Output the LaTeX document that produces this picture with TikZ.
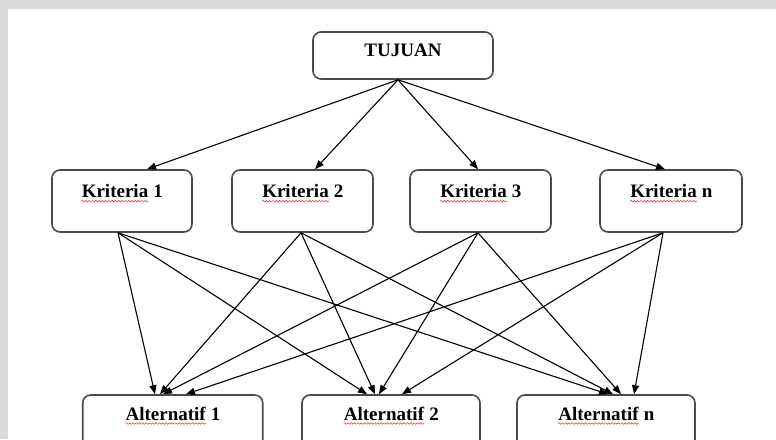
\documentclass[tikz,border=0pt]{standalone}
\usepackage{fontspec}
\setmainfont{Liberation Serif}
\usetikzlibrary{arrows.meta,decorations.pathmorphing}
\definecolor{pagegrey}{HTML}{D9D9D9}
\definecolor{boxline}{HTML}{4A4A4A}
\begin{document}
\begin{tikzpicture}[x=1pt,y=-1pt,
  box/.style={draw=boxline, line width=1.6pt, rounded corners=8pt, fill=white, inner sep=0pt},
  lbl/.style={font=\fontsize{19}{22}\selectfont\bfseries, inner sep=0pt, text=black},
  arr/.style={-{Triangle[length=9pt,width=7pt]}, line width=1.1pt, black},
  wave/.style={red!85!white, line width=0.5pt, decorate, decoration={snake, amplitude=0.8pt, segment length=3.3pt}}]
\useasboundingbox (0,0) rectangle (776,439);
\fill[white] (0,0) rectangle (776,439);
\fill[pagegrey] (0,0) rectangle (776,9);
\fill[pagegrey] (0,0) rectangle (8,439);

% goal
\node[box, minimum width=180pt, minimum height=47pt] (tuj) at (403,55.5) {};
\node[lbl, anchor=base] (tujt) at (403,56.5) {TUJUAN};

% criteria
\node[box, minimum width=140pt, minimum height=62pt] (k1) at (122,201) {};
\node[box, minimum width=141pt, minimum height=62pt] (k2) at (302.5,201) {};
\node[box, minimum width=141pt, minimum height=62pt] (k3) at (480.5,201) {};
\node[box, minimum width=142pt, minimum height=62pt] (kn) at (671,201) {};

\node[lbl, anchor=base] (k1w) at (115,197.7) {Kriteria};
\node[lbl, anchor=base west] (k1r) at (k1w.base east) {~1};
\node[lbl, anchor=base] (k2w) at (295.5,197.7) {Kriteria};
\node[lbl, anchor=base west] (k2r) at (k2w.base east) {~2};
\node[lbl, anchor=base] (k3w) at (473.5,197.7) {Kriteria};
\node[lbl, anchor=base west] (k3r) at (k3w.base east) {~3};
\node[lbl, anchor=base] (knw) at (663.5,197.7) {Kriteria};
\node[lbl, anchor=base west] (knr) at (knw.base east) {~n};

\foreach \w in {k1w,k2w,k3w,knw}
  \draw[wave] ([yshift=-3.5pt]\w.base west) -- ([yshift=-3.5pt]\w.base east);

% alternatives
\begin{scope}
\clip (0,0) rectangle (776,439);
\node[box, minimum width=180pt, minimum height=62pt] (a1) at (172.7,426) {};
\node[box, minimum width=178pt, minimum height=62pt] (a2) at (391,426) {};
\node[box, minimum width=178pt, minimum height=62pt] (an) at (606,426) {};
\end{scope}

\node[lbl, anchor=base] (a1w) at (165.7,420) {Alternatif};
\node[lbl, anchor=base west] (a1r) at (a1w.base east) {~1};
\node[lbl, anchor=base] (a2w) at (384,420) {Alternatif};
\node[lbl, anchor=base west] (a2r) at (a2w.base east) {~2};
\node[lbl, anchor=base] (anw) at (598.5,420) {Alternatif};
\node[lbl, anchor=base west] (anr) at (anw.base east) {~n};

\foreach \w in {a1w,a2w,anw}
  \draw[wave] ([yshift=-3.5pt]\w.base west) -- ([yshift=-3.5pt]\w.base east);

% goal -> criteria
\draw[arr] ([xshift=-5pt]tuj.south) -- ([xshift=25pt]k1.north);
\draw[arr] ([xshift=-5pt]tuj.south) -- ([xshift=12.5pt]k2.north);
\draw[arr] ([xshift=-5pt]tuj.south) -- ([xshift=-2.5pt]k3.north);
\draw[arr] ([xshift=-5pt]tuj.south) -- ([xshift=-6pt]kn.north);

% criteria -> alternatives
\draw[arr] ([xshift=-4pt]k1.south) -- ([xshift=-17.7pt]a1.north);
\draw[arr] ([xshift=-4pt]k1.south) -- ([xshift=-24pt]a2.north);
\draw[arr] ([xshift=-4pt]k1.south) -- ([xshift=2pt]an.north);

\draw[arr] ([xshift=-1.5pt]k2.south) -- ([xshift=-12.7pt]a1.north);
\draw[arr] ([xshift=-1.5pt]k2.south) -- ([xshift=-16pt]a2.north);
\draw[arr] ([xshift=-1.5pt]k2.south) -- ([xshift=7pt]an.north);

\draw[arr] ([xshift=-2.5pt]k3.south) -- ([xshift=-9.7pt]a1.north);
\draw[arr] ([xshift=-2.5pt]k3.south) -- ([xshift=-12pt]a2.north);
\draw[arr] ([xshift=-2.5pt]k3.south) -- ([xshift=15pt]an.north);

\draw[arr] ([xshift=-8pt]kn.south) -- ([xshift=13.3pt]a1.north);
\draw[arr] ([xshift=-8pt]kn.south) -- ([xshift=11pt]a2.north);
\draw[arr] ([xshift=-8pt]kn.south) -- ([xshift=28pt]an.north);
\end{tikzpicture}
\end{document}
